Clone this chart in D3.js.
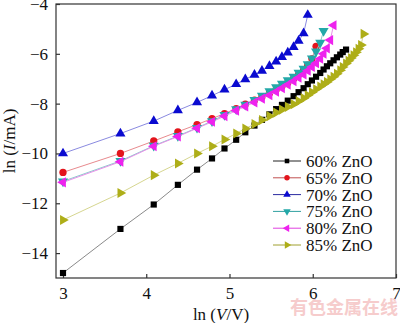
<!DOCTYPE html>
<html>
<head>
<meta charset="utf-8">
<script src="https://cdn.jsdelivr.net/npm/d3@7"></script>
<style>
  html, body { margin: 0; padding: 0; background: #fff; }
  svg { display: block; }
  text { font-family: "Liberation Serif", "Times New Roman", serif; }
</style>
</head>
<body>
<svg id="chart" width="400" height="323"></svg>
<script>
// ln(V/V) sample positions (V = 20, 40, 60 ... volts)
const lnV = [3.00, 3.69, 4.09, 4.38, 4.61, 4.79, 4.94, 5.08, 5.19, 5.30,
             5.39, 5.48, 5.56, 5.63, 5.70, 5.77, 5.83, 5.89, 5.94, 5.99,
             6.04, 6.09, 6.13, 6.17, 6.21, 6.25, 6.29, 6.33, 6.36, 6.40,
             6.43, 6.46, 6.49, 6.52, 6.55, 6.58, 6.61];

const seriesNames = ["60% ZnO", "65% ZnO", "70% ZnO", "75% ZnO", "80% ZnO", "85% ZnO"];

// ln(I/mA) for each composition
const zno60 = [-14.80, -13.03, -12.05, -11.26, -10.65, -10.20, -9.80, -9.45, -9.15, -8.88,
               -8.65, -8.43, -8.22, -8.05, -7.88, -7.70, -7.54, -7.38, -7.22, -7.07,
               -6.92, -6.77, -6.63, -6.50, -6.38, -6.26, -6.14, -6.03, -5.93, -5.83];
const zno65 = [-10.76, -10.00, -9.50, -9.13, -8.84, -8.60, -8.40, -8.20, -8.02, -7.86,
               -7.72, -7.58, -7.44, -7.30, -7.16, -7.00, -6.84, -6.66, -6.46, -6.20,
               -5.70];
const zno70 = [-10.00, -9.20, -8.70, -8.27, -7.95, -7.68, -7.44, -7.22, -7.02, -6.84,
               -6.68, -6.49, -6.31, -6.13, -5.95, -5.73, -5.48, -5.18, -4.44];
const zno75 = [-11.12, -10.30, -9.69, -9.30, -8.97, -8.70, -8.45, -8.22, -8.04, -7.85,
               -7.68, -7.50, -7.34, -7.20, -7.06, -6.92, -6.76, -6.60, -6.42, -6.18,
               -5.90, -5.55, -5.08];
const zno80 = [-11.16, -10.33, -9.71, -9.32, -8.99, -8.73, -8.50, -8.28, -8.11, -7.95,
               -7.80, -7.66, -7.52, -7.38, -7.24, -7.10, -6.96, -6.83, -6.68, -6.53,
               -6.38, -6.20, -6.00, -5.78, -5.45, -4.85];
const zno85 = [-12.67, -11.59, -10.87, -10.40, -10.00, -9.71, -9.44, -9.20, -9.00, -8.82,
               -8.66, -8.50, -8.36, -8.24, -8.13, -8.02, -7.90, -7.78, -7.66, -7.54,
               -7.42, -7.31, -7.22, -7.13, -7.02, -6.92, -6.80, -6.66, -6.53, -6.39,
               -6.28, -6.17, -6.06, -5.94, -5.80, -5.65, -5.20];

const xTicks = [3, 4, 5, 6, 7];
const yTicks = [-4, -6, -8, -10, -12, -14];

const seriesValues = [zno60, zno65, zno70, zno75, zno80, zno85];
const colors = ["#000000", "#e3141c", "#0a0ad0", "#23a8a8", "#ee22ee", "#aeae18"];
const lineColors = ["#8a8a8a", "#e88a8e", "#8a8ae0", "#88cccc", "#e890e8", "#d6d690"];
const legendLineColors = ["#222222", "#c05050", "#2a2aa0", "#30a0a0", "#e040e0", "#a0a030"];
const symbols = [
  {type: d3.symbolSquare, size: 38, rot: 0},
  {type: d3.symbolCircle, size: 42, rot: 0},
  {type: d3.symbolTriangle, size: 44, rot: 0},
  {type: d3.symbolTriangle, size: 44, rot: 180},
  {type: d3.symbolTriangle, size: 44, rot: -90},
  {type: d3.symbolTriangle, size: 44, rot: 90}
];

const svg = d3.select("#chart");
const margin = {left: 56, right: 5, top: 4, bottom: 45};
const W = 400, H = 323;

const x = d3.scaleLinear().domain([2.916, 7]).range([margin.left, 396]);
const y = d3.scaleLinear().domain([-15, -4]).range([H - margin.bottom, margin.top]);

// watermark
svg.append("text")
  .attr("x", 344).attr("y", 314)
  .attr("text-anchor", "middle")
  .attr("font-size", 18).attr("font-weight", "bold")
  .attr("fill", "#f6cccc")
  .style("font-family", "'Noto Sans CJK SC', sans-serif")
  .text("有色金属在线");

// frame
svg.append("rect")
  .attr("x", x.range()[0]).attr("y", y.range()[1])
  .attr("width", x.range()[1] - x.range()[0])
  .attr("height", y.range()[0] - y.range()[1])
  .attr("fill", "none").attr("stroke", "#333").attr("stroke-width", 1.2);

// axes with inward ticks
const xAxis = d3.axisBottom(x).tickValues(xTicks).tickSizeInner(-4).tickSizeOuter(0)
  .tickPadding(9).tickFormat(d3.format("d"));
const gx = svg.append("g").attr("transform", `translate(0,${y.range()[0]})`).call(xAxis);
gx.select(".domain").remove();
gx.selectAll("line").attr("stroke", "#333").attr("stroke-width", 1.2);
gx.selectAll("text").attr("font-size", 17).attr("fill", "#111")
  .style("font-family", "'Liberation Serif', serif");

const yAxis = d3.axisLeft(y).tickValues(yTicks).tickSizeInner(-4).tickSizeOuter(0)
  .tickPadding(8).tickFormat(d => d < 0 ? "\u2212" + Math.abs(d) : d);
const gy = svg.append("g").attr("transform", `translate(${x.range()[0]},0)`).call(yAxis);
gy.select(".domain").remove();
gy.selectAll("line").attr("stroke", "#333").attr("stroke-width", 1.2);
gy.selectAll("text").attr("font-size", 17).attr("fill", "#111")
  .style("font-family", "'Liberation Serif', serif");

// axis titles
const xt = svg.append("text").attr("x", 221).attr("y", 320)
  .attr("text-anchor", "middle").attr("font-size", 17).attr("fill", "#111");
xt.append("tspan").text("ln (");
xt.append("tspan").attr("font-style", "italic").text("V");
xt.append("tspan").text("/V)");

const yt = svg.append("text")
  .attr("transform", `translate(15,${(y.range()[0] + y.range()[1]) / 2}) rotate(-90)`)
  .attr("text-anchor", "middle").attr("font-size", 17).attr("fill", "#111");
yt.append("tspan").text("ln (");
yt.append("tspan").attr("font-style", "italic").text("I");
yt.append("tspan").text("/mA)");

// series lines and markers
const line = d3.line().x(d => x(d[0])).y(d => y(d[1]));
seriesValues.forEach((vals, i) => {
  const pts = vals.map((v, j) => [lnV[j], v]);
  const g = svg.append("g");
  g.append("path").datum(pts).attr("d", line)
    .attr("fill", "none").attr("stroke", lineColors[i]).attr("stroke-width", 1);
  const sym = d3.symbol().type(symbols[i].type).size(symbols[i].size);
  g.selectAll("path.m").data(pts).enter().append("path")
    .attr("class", "m")
    .attr("d", sym)
    .attr("transform", d => `translate(${x(d[0])},${y(d[1])}) rotate(${symbols[i].rot})`)
    .attr("fill", colors[i]);
});

// legend
const legend = svg.append("g");
seriesNames.forEach((name, i) => {
  const yy = 161 + i * 16.8;
  legend.append("line").attr("x1", 273).attr("x2", 301).attr("y1", yy).attr("y2", yy)
    .attr("stroke", legendLineColors[i]).attr("stroke-width", 1);
  const sym = d3.symbol().type(symbols[i].type).size(symbols[i].size * 0.55);
  legend.append("path").attr("d", sym)
    .attr("transform", `translate(287,${yy}) rotate(${symbols[i].rot})`)
    .attr("fill", colors[i]);
  legend.append("text").attr("x", 306).attr("y", yy + 6)
    .attr("font-size", 17).attr("fill", "#111").text(name);
});
</script>
</body>
</html>
